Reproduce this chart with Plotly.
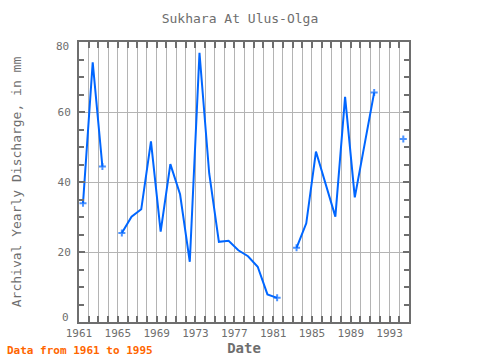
import plotly.graph_objects as go

years = list(range(1961, 1995))
discharge = [33.9, 74.2, 44.4, None, 25.4, 30.1, 32.2, 51.6, 25.8, 45.1,
             36.5, 17.2, 76.9, 42.5, 22.9, 23.2, 20.5, 18.8, 15.8, 7.9,
             6.9, None, 21.2, 28.2, 48.7, 39.5, 30.1, 64.3, 35.6, 50.6,
             65.6, None, None, 52.3]
x_ticks = [1961, 1965, 1969, 1973, 1977, 1981, 1985, 1989, 1993]
y_ticks = [0, 20, 40, 60, 80]

dates = [f"{y}-06-01" for y in years]

# markers only shown at segment ends / isolated points
sizes = []
for i, v in enumerate(discharge):
    prev_ok = i > 0 and discharge[i - 1] is not None
    next_ok = i < len(discharge) - 1 and discharge[i + 1] is not None
    sizes.append(0 if (prev_ok and next_ok) else 5)

FONT = "DejaVu Sans Mono"
GREY = "#6e6e6e"
BLUE = "#0066ff"

fig = go.Figure()
fig.add_trace(go.Scatter(
    x=dates, y=discharge, mode="lines+markers",
    line=dict(color=BLUE, width=2),
    marker=dict(color=BLUE, size=sizes, symbol="cross-thin", line=dict(color=BLUE, width=2)),
    connectgaps=False, showlegend=False, hoverinfo="skip",
))

fig.update_layout(
    width=480, height=360,
    margin=dict(l=79, r=71, t=42, b=38, autoexpand=False),
    paper_bgcolor="white", plot_bgcolor="white",
    title=dict(text="Sukhara At Ulus-Olga", x=0.5, xanchor="center", y=1 - 18/360, yanchor="middle",
               font=dict(family=FONT, size=13, color=GREY)),
    font=dict(family=FONT, color=GREY, size=11),
)

fig.update_xaxes(
    type="date", automargin=False,
    range=["1961-01-01", "1995-01-01"],
    tickmode="array",
    tickvals=[f"{y}-01-01" for y in x_ticks],
    ticktext=[str(y) for y in x_ticks],
    tickfont=dict(family=FONT, size=11, color=GREY),
    ticks="inside", ticklen=6, tickwidth=2, tickcolor=GREY,
    showline=True, linecolor=GREY, linewidth=2, mirror="allticks",
    showgrid=True, gridcolor="#b4b4b4", gridwidth=1,
    minor=dict(dtick="M12", tick0="1961-01-01", showgrid=True, gridcolor="#b4b4b4",
               ticks="inside", ticklen=6, tickwidth=2, tickcolor=GREY),
    title=dict(text="Date", font=dict(family=FONT, size=14, color=GREY, weight="bold"), standoff=2),
    zeroline=False,
)

# end labels (0 and 80) are drawn nudged inward, as in the reference
ytext = [str(v) if v not in (y_ticks[0], y_ticks[-1]) else "" for v in y_ticks]
fig.update_yaxes(
    automargin=False,
    range=[y_ticks[0], y_ticks[-1]],
    tickmode="array", tickvals=y_ticks, ticktext=ytext,
    tickfont=dict(family=FONT, size=11, color=GREY),
    ticklabelstandoff=4,
    ticks="inside", ticklen=6, tickwidth=2, tickcolor=GREY,
    showline=True, linecolor=GREY, linewidth=2, mirror="allticks",
    showgrid=True, gridcolor="#b4b4b4", gridwidth=1,
    minor=dict(dtick=5, tick0=0, showgrid=False, ticks="inside", ticklen=5, tickwidth=2, tickcolor=GREY),
    title=dict(text="Archival Yearly Discharge, in mm", font=dict(family=FONT, size=13, color=GREY), standoff=33),
    zeroline=False,
)

for v, yy in ((y_ticks[0], y_ticks[0] + 1.4), (y_ticks[-1], y_ticks[-1] - 1.4)):
    fig.add_annotation(text=str(v), xref="paper", yref="y", x=-8/330, y=yy,
                       xanchor="right", yanchor="middle", showarrow=False,
                       font=dict(family=FONT, size=11, color=GREY))

fig.add_annotation(
    text="Data from 1961 to 1995", xref="paper", yref="paper",
    x=-74/330, y=-38/280, xanchor="left", yanchor="bottom", yshift=1, showarrow=False,
    font=dict(family=FONT, size=11, color="#ff6600", weight="bold"),
)

fig.write_html("out.html", config={"displayModeBar": False},
               post_script="document.body.style.margin='0px';")
